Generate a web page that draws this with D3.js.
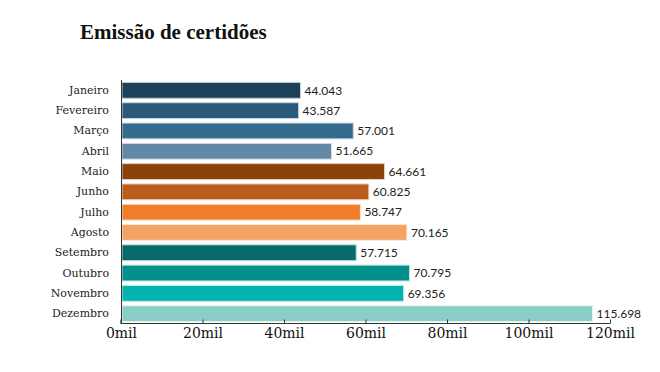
<!DOCTYPE html>
<html lang="pt">
<head>
  <meta charset="UTF-8">
  <title>Emissão de certidões</title>
  <style>
    body { margin: 0; background: #fff; }
  </style>
</head>
<body>
  <svg></svg>
  <script src="https://cdn.jsdelivr.net/npm/d3@7"></script>
  <script>
    var meses = ["Janeiro", "Fevereiro", "Março", "Abril", "Maio", "Junho", "Julho",
      "Agosto", "Setembro", "Outubro", "Novembro", "Dezembro"];
    var certidoes = [44043, 43587, 57001, 51665, 64661, 60825, 58747, 70165, 57715, 70795, 69356, 115698];
    var cores = ["#1c4259", "#2a5a7a", "#346b8e", "#6488a7", "#8a4309", "#b95d1c", "#ef7f2b",
      "#f3a462", "#056b69", "#02918a", "#01b4ad", "#8ccdc8"];
    var ticks = [0, 20000, 40000, 60000, 80000, 100000, 120000];

    var width = 660, height = 372;
    var margin = { top: 80, left: 121, right: 50, bottom: 48 };

    var svg = d3.select("svg")
      .attr("width", width)
      .attr("height", height);

    // título
    svg.append("text")
      .attr("x", 80)
      .attr("y", 39)
      .attr("font-family", "Liberation Serif")
      .attr("font-weight", "bold")
      .attr("font-size", "21px")
      .attr("fill", "#111")
      .text("Emissão de certidões");

    var x = d3.scaleLinear()
      .domain([0, 120000])
      .range([margin.left, 610]);

    var y = d3.scaleBand()
      .domain(meses)
      .range([margin.top, 324])
      .paddingInner(0.22)
      .paddingOuter(0.12);

    var color = d3.scaleOrdinal().domain(meses).range(cores);

    var data = meses.map(function(m, i) {
      return { mes: m, valor: certidoes[i] };
    });

    // barras
    svg.append("g")
      .selectAll("rect")
      .data(data)
      .join("rect")
      .attr("x", x(0) + 1)
      .attr("y", d => y(d.mes))
      .attr("width", d => x(d.valor) - x(0) - 1)
      .attr("height", y.bandwidth())
      .attr("fill", d => color(d.mes))
      .attr("stroke", d => d3.interpolateRgb(color(d.mes), "#fff")(0.75))
      .attr("stroke-width", 1);

    // rótulos de valor
    var fmt = d3.formatLocale({ decimal: ",", thousands: ".", grouping: [3], currency: ["R$", ""] }).format(",d");
    svg.append("g")
      .selectAll("text")
      .data(data)
      .join("text")
      .attr("x", d => x(d.valor) + 4)
      .attr("y", d => y(d.mes) + y.bandwidth() / 2)
      .attr("dy", "0.35em")
      .attr("font-family", "Lato")
      .attr("font-size", "12px")
      .attr("fill", "#222")
      .text(d => fmt(d.valor));

    // eixo y
    var yAxis = svg.append("g")
      .attr("transform", `translate(${margin.left},0)`)
      .call(d3.axisLeft(y).tickSize(0).tickPadding(12));
    yAxis.select(".domain").attr("stroke", "#333").attr("d", "M0.5,80V324");
    yAxis.selectAll("text")
      .attr("font-family", "DejaVu Serif")
      .attr("font-size", "11px")
      .attr("fill", "#222");

    // eixo x
    var xAxis = svg.append("g")
      .attr("transform", "translate(0,323.5)")
      .call(d3.axisBottom(x).tickValues(ticks).tickSize(4).tickSizeOuter(0)
        .tickFormat(d => (d / 1000) + "mil"));
    xAxis.select(".domain").attr("stroke", "#333").attr("stroke-width", 1.2)
      .attr("d", "M" + margin.left + ",-4V0H610");
    xAxis.selectAll(".tick line").attr("stroke", "#333").attr("y1", -4).attr("y2", 0);
    xAxis.selectAll("text")
      .attr("y", 5)
      .attr("font-family", "DejaVu Serif")
      .attr("font-size", "14px")
      .attr("fill", "#111");
  </script>
</body>
</html>
